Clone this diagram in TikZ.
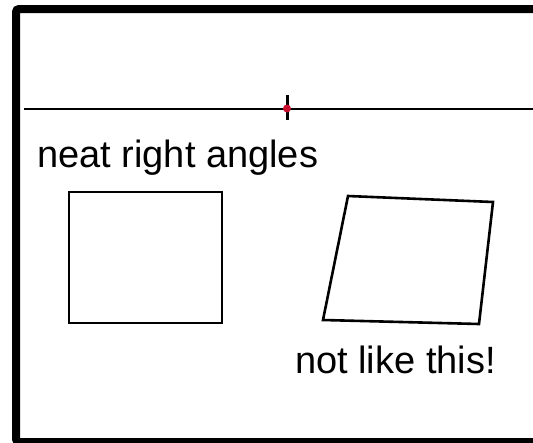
\documentclass[tikz,border=0pt]{standalone}
\usepackage{fontspec}
\setmainfont{Liberation Sans}
\usetikzlibrary{positioning}
\definecolor{dotred}{HTML}{C8102E}
\tikzset{frame/.style={draw=black,line width=8pt,rounded corners=3pt}, guide/.style={draw=black,line width=2pt}, shapeline/.style={draw=black,line width=2.6pt,line join=miter}, label/.style={anchor=base west,inner sep=0pt,font=\fontsize{38}{40}\selectfont}}

\begin{document}
\begin{tikzpicture}[x=1pt,y=-1pt]
\useasboundingbox (0,0) rectangle (533,442);
\begin{scope}
\clip (0,0) rectangle (533,442);
\draw[frame] (560,9) -- (16,9) -- (16,442) -- (560,442);
\end{scope}
\coordinate (lineL) at (24,108.5);
\coordinate (lineR) at (533,108.5);
\coordinate (mark) at (287,108.5);
\draw[guide] (lineL) -- (lineR);
\draw[line width=3pt] ([yshift=-11pt]mark) -- ([yshift=14pt]mark);
\fill[dotred] (mark) circle (4pt);
\node[label] (neat) at (37,167) {neat right angles};
\draw[shapeline] (69,192) rectangle (222,323);
\draw[shapeline] (348,196) -- (493,202) -- (479,324) -- (323,320) -- cycle;
\node[label] (notlike) at (295,373) {not like this!};
\end{tikzpicture}
\end{document}
